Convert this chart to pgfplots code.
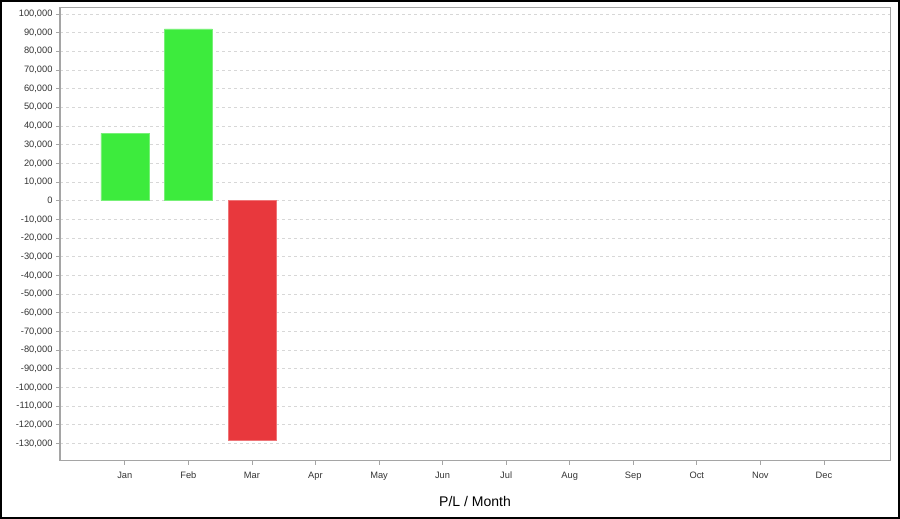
\documentclass[border=0pt]{standalone}
\usepackage{pgfplots}
\pgfplotsset{compat=1.18}
\usepackage{fontspec}
\setmainfont{Liberation Sans}
\definecolor{bargreen}{RGB}{61,235,61}
\definecolor{barred}{RGB}{232,56,61}
\definecolor{axgray}{RGB}{165,165,165}
\definecolor{gridgray}{RGB}{215,215,215}
\begin{document}
\begin{tikzpicture}
\path[use as bounding box] (0pt,0pt) rectangle (900pt,519pt);
\draw[black,line width=2pt] (1pt,1pt) rectangle (899pt,518pt);
\begin{axis}[
  at={(60pt,58pt)}, anchor=south west,
  width=830pt, height=453pt, scale only axis,
  xmin=-1.02, xmax=12.04,
  ymin=-139400, ymax=103200,
  xtick={0,...,11},
  xticklabels={Jan,Feb,Mar,Apr,May,Jun,Jul,Aug,Sep,Oct,Nov,Dec},
  ytick={-130000,-120000,...,100000},
  scaled y ticks=false,
  yticklabel style={/pgf/number format/.cd,fixed,set thousands separator={,},assume math mode=true},
  tick label style={font=\fontsize{9.3}{10}\selectfont, text=black!80},
  xticklabel style={text height=7pt, text depth=2pt, yshift=-3pt},
  tick align=outside, tick pos=left,
  major tick length=4pt,
  tick style={axgray, line width=0.8pt},
  axis line style={axgray, line width=1pt},
  ymajorgrids, grid style={gridgray, dashed, line width=0.6pt},
  xlabel={P/L / Month},
  xlabel style={font=\fontsize{14}{16}\selectfont, yshift=-9pt},
  ybar, bar width=48pt, bar shift=0pt,
]
\addplot[fill=bargreen, draw=bargreen!70!white] coordinates {(0,36000) (1,92000)};
\addplot[fill=barred, draw=barred!70!white] coordinates {(2,-128500)};
\end{axis}
\end{tikzpicture}
\end{document}
